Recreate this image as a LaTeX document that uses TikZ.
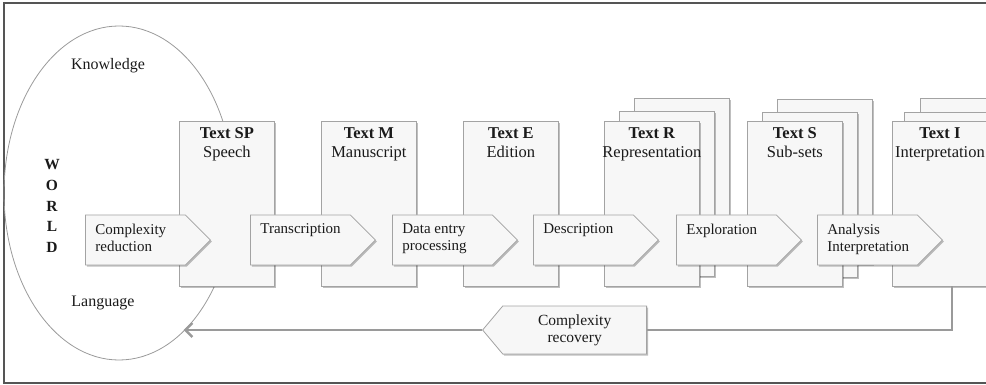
\documentclass[tikz,border=0pt]{standalone}
\usepackage{fontspec}
\setmainfont{Liberation Serif}
\usetikzlibrary{positioning,shapes.geometric,shapes.symbols,shadows,arrows.meta}
\definecolor{framegray}{HTML}{555555}
\definecolor{boxline}{HTML}{A3A3A3}
\definecolor{boxfill}{HTML}{F7F7F7}
\definecolor{loopgray}{HTML}{9A9A9A}
\definecolor{inkgray}{HTML}{1A1A1A}
\tikzset{
  softshadow/.style={drop shadow={shadow xshift=1.5pt,shadow yshift=-1.5pt,opacity=0.25,fill=black}},
  textbox/.style={draw=boxline,fill=boxfill,line width=0.8pt,minimum width=95pt,
    minimum height=165pt,inner sep=0pt,anchor=north west,softshadow},
  boxtitle/.style={inner sep=0pt,align=center,text=inkgray,font=\fontsize{16.5}{19}\selectfont},
  steparrow/.style={signal,signal to=east,signal pointer angle=90,draw=boxline,fill=boxfill,
    line width=0.8pt,minimum height=50pt,minimum width=125pt,inner xsep=10pt,inner ysep=0pt,
    anchor=west,text=inkgray,font=\fontsize{15}{17}\selectfont,softshadow},
  backarrow/.style={signal,signal to=west,signal pointer angle=100,draw=boxline,fill=boxfill,
    line width=0.8pt,minimum height=48pt,minimum width=164pt,inner ysep=0pt,align=center,
    anchor=east,text=inkgray,font=\fontsize{15.5}{17}\selectfont,softshadow},
  worldlabel/.style={inner sep=0pt,text=inkgray,font=\fontsize{16}{19}\selectfont},
  loopline/.style={draw=loopgray,line width=2.5pt}
}
\newcommand\steplabel[1]{\parbox[c][32pt][t]{80pt}{\raggedright #1}}
\begin{document}
\begin{tikzpicture}[x=1pt,y=-1pt]
  \useasboundingbox (0,0) rectangle (986,385);
  \draw[framegray,line width=1.5pt] (4,3) rectangle (995,383);

  \node[ellipse,draw=loopgray,line width=0.8pt,minimum width=230pt,minimum height=334pt,
    inner sep=0pt] (world) at (119,193) {};
  \node[worldlabel] (know) at (108,66) {Knowledge};
  \node[worldlabel] (lang) at (103,303) {Language};
  \node[worldlabel,align=center,font=\bfseries\fontsize{15.5}{20.7}\selectfont] (wl) at (52,206)
    {W\\O\\R\\L\\D};

  \begin{scope}
    \node[textbox] (sp) at (179,121) {};
    \node[textbox] (m) at (321,121) {};
    \node[textbox] (e) at (463,121) {};
    \node[textbox] (r3) at (634,98) {};
    \node[textbox] (r2) at (619,111) {};
    \node[textbox] (r) at (604,121) {};
    \node[textbox] (s3) at (777,99) {};
    \node[textbox] (s2) at (762,112) {};
    \node[textbox] (s) at (747,121) {};
    \node[textbox] (i3) at (920,98) {};
    \node[textbox] (i2) at (904,112) {};
    \node[textbox] (i) at (892,121) {};
  \end{scope}
  \begin{scope}[every node/.style={boxtitle}]
    \node[below=6pt of sp.north] (sptitle) {\textbf{Text SP}\\Speech};
    \node[below=6pt of m.north] (mtitle) {\textbf{Text M}\\Manuscript};
    \node[below=6pt of e.north] (etitle) {\textbf{Text E}\\Edition};
    \node[below=6pt of r.north] (rtitle) {\textbf{Text R}\\Representation};
    \node[below=6pt of s.north] (stitle) {\textbf{Text S}\\Sub-sets};
    \node[below=6pt of i.north] (ititle) {\textbf{Text I}\\Interpretation};
  \end{scope}

  \begin{scope}[every node/.style={steparrow}]
    \node (reduce) at (85,240) {\steplabel{Complexity\\reduction}};
    \node (transcr) at (250,240) {\steplabel{Transcription}};
    \node (entry) at (392,240) {\steplabel{Data entry\\processing}};
    \node (descr) at (533,240) {\steplabel{Description}};
    \node (explor) at (676,240) {\steplabel{Exploration}};
    \node (analys) at (817,240) {\steplabel{Analysis\\Interpretation}};
  \end{scope}

  \node[backarrow] (recover) at (647,330) {Complexity\\recovery};
  \coordinate (feedback) at (952,286);
  \draw[loopline] (feedback) |- (recover.east);
  \draw[loopline,-{Straight Barb[length=7pt,width=14pt]}] (recover.west) -- (recover.west -| world.-65);
\end{tikzpicture}
\end{document}
